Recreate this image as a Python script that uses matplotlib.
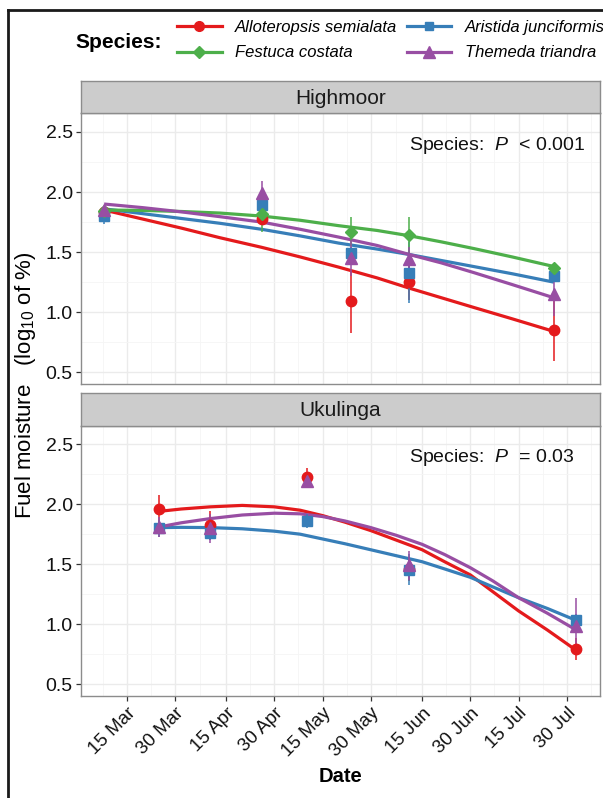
import numpy as np
import matplotlib.pyplot as plt
import matplotlib.dates as mdates
from matplotlib.lines import Line2D
from matplotlib.ticker import FixedLocator

plt.rcParams['font.family'] = ['Liberation Sans', 'DejaVu Sans']
plt.rcParams['mathtext.fontset'] = 'custom'
plt.rcParams['mathtext.rm'] = 'Liberation Sans'
plt.rcParams['mathtext.it'] = 'Liberation Sans:italic'
plt.rcParams['mathtext.bf'] = 'Liberation Sans:bold'

# --- данные ---------------------------------------------------------------
species = ['Alloteropsis semialata', 'Aristida junciformis', 'Festuca costata', 'Themeda triandra']
colors = ['#E41A1C', '#377EB8', '#4DAF4A', '#984EA3']
markers = ['o', 's', 'D', '^']
msizes = [7.5, 6.5, 6.5, 8.5]

# Highmoor: средние и ошибки
hm_dates = np.array(['2015-03-08', '2015-04-26', '2015-05-24', '2015-06-11', '2015-07-26'], dtype='datetime64[D]')
hm_mean = [
    [1.83, 1.775, 1.09, 1.25, 0.85],
    [1.80, 1.89, 1.49, 1.33, 1.30],
    [1.84, 1.82, 1.67, 1.64, 1.37],
    [1.85, 1.99, 1.45, 1.44, 1.15],
]
hm_err = [
    [0.03, 0.05, 0.26, 0.15, 0.26],
    [0.07, 0.05, 0.05, 0.25, 0.04],
    [0.03, 0.15, 0.12, 0.15, 0.03],
    [0.03, 0.10, 0.15, 0.10, 0.18],
]
# Highmoor: сглаженные кривые
hm_fit_dates = np.array(['2015-03-08', '2015-03-20', '2015-04-01', '2015-04-13', '2015-04-26',
                         '2015-05-08', '2015-05-20', '2015-06-01', '2015-06-11', '2015-06-21',
                         '2015-07-01', '2015-07-13', '2015-07-26'], dtype='datetime64[D]')
hm_fit = [
    [1.85, 1.775, 1.70, 1.62, 1.54, 1.46, 1.375, 1.285, 1.20, 1.12, 1.04, 0.945, 0.84],
    [1.86, 1.82, 1.78, 1.74, 1.69, 1.635, 1.575, 1.525, 1.48, 1.43, 1.38, 1.32, 1.25],
    [1.85, 1.847, 1.838, 1.825, 1.80, 1.765, 1.72, 1.68, 1.636, 1.585, 1.53, 1.46, 1.38],
    [1.90, 1.87, 1.835, 1.795, 1.75, 1.69, 1.625, 1.555, 1.48, 1.41, 1.33, 1.23, 1.12],
]

# Ukulinga (без Festuca)
uk_dates = np.array(['2015-03-25', '2015-04-10', '2015-05-10', '2015-06-11', '2015-08-02'], dtype='datetime64[D]')
uk_mean = [
    [1.96, 1.825, 2.23, 1.46, 0.79],
    [1.80, 1.76, 1.86, 1.455, 1.033],
    None,
    [1.81, 1.80, 2.19, 1.49, 0.98],
]
uk_err = [
    [0.12, 0.12, 0.07, 0.10, 0.09],
    [0.07, 0.06, 0.06, 0.13, 0.05],
    None,
    [0.08, 0.12, 0.05, 0.12, 0.24],
]
uk_fit_dates = np.array(['2015-03-25', '2015-04-01', '2015-04-10', '2015-04-20', '2015-04-30',
                         '2015-05-08', '2015-05-15', '2015-05-22', '2015-05-30', '2015-06-07',
                         '2015-06-15', '2015-06-22', '2015-06-30', '2015-07-07', '2015-07-15',
                         '2015-07-24', '2015-08-02'], dtype='datetime64[D]')
uk_fit = [
    [1.94, 1.96, 1.978, 1.99, 1.978, 1.95, 1.905, 1.85, 1.78, 1.70, 1.62, 1.52, 1.41, 1.27, 1.11, 0.95, 0.78],
    [1.805, 1.807, 1.805, 1.795, 1.775, 1.75, 1.71, 1.67, 1.62, 1.57, 1.52, 1.46, 1.39, 1.31, 1.22, 1.13, 1.03],
    None,
    [1.81, 1.845, 1.88, 1.91, 1.925, 1.92, 1.897, 1.86, 1.805, 1.74, 1.665, 1.58, 1.47, 1.36, 1.22, 1.09, 0.95],
]

tick_dates = np.array(['2015-03-15', '2015-03-30', '2015-04-15', '2015-04-30', '2015-05-15',
                       '2015-05-30', '2015-06-15', '2015-06-30', '2015-07-15', '2015-07-30'],
                      dtype='datetime64[D]')
tick_labels = ['15 Mar', '30 Mar', '15 Apr', '30 Apr', '15 May', '30 May', '15 Jun', '30 Jun', '15 Jul', '30 Jul']
y_ticks = [0.5, 1.0, 1.5, 2.0, 2.5]

panels = ['Highmoor', 'Ukulinga']
p_text = ['Species:  $\\mathit{P}$  < 0.001', 'Species:  $\\mathit{P}$  = 0.03']

# --- геометрия ------------------------------------------------------------
W, H = 603, 798
fig = plt.figure(figsize=(W / 100, H / 100), dpi=100)

def fx(px):
    return px / W

def fy(py):
    return 1 - py / H

left, right = 80.5, 600
ax_boxes = [(113.3, 384.0), (425.7, 695.7)]
strip_h = 32.5

all_dates = np.concatenate([hm_dates, uk_dates])
dmin = mdates.date2num(all_dates.min())
dmax = mdates.date2num(all_dates.max())
pad = (dmax - dmin) * 0.05

tnum = mdates.date2num(tick_dates)
step0 = tnum[1] - tnum[0]
step1 = tnum[-1] - tnum[-2]
minor_x = list((tnum[:-1] + tnum[1:]) / 2) + [tnum[0] - step0 / 2, tnum[-1] + step1 / 2]
minor_y = [0.75, 1.25, 1.75, 2.25]

datasets = [
    (hm_dates, hm_mean, hm_err, hm_fit_dates, hm_fit),
    (uk_dates, uk_mean, uk_err, uk_fit_dates, uk_fit),
]

for k, (top, bot) in enumerate(ax_boxes):
    ax = fig.add_axes([fx(left), fy(bot), fx(right - left), (bot - top) / H])
    dates, mean, err, fdates, fit = datasets[k]

    # сглаженные линии
    for i in range(4):
        if fit[i] is None:
            continue
        ax.plot(fdates, fit[i], color=colors[i], lw=2.3, zorder=3,
                solid_capstyle='butt', solid_joinstyle='round')
    # планки ошибок
    for i in range(4):
        if mean[i] is None:
            continue
        ax.errorbar(dates, mean[i], yerr=err[i], fmt='none', ecolor=colors[i],
                    elinewidth=1.1, capsize=0, zorder=4)
    # точки
    for i in range(4):
        if mean[i] is None:
            continue
        ax.plot(dates, mean[i], linestyle='none', marker=markers[i], ms=msizes[i],
                color=colors[i], mec=colors[i], zorder=5)

    ax.set_xlim(dmin - pad, dmax + pad)
    ax.set_ylim(0.4025, 2.655)
    ax.set_yticks(y_ticks)
    ax.set_yticklabels(['%.1f' % v for v in y_ticks])
    ax.set_xticks(tnum)
    ax.xaxis.set_minor_locator(FixedLocator(minor_x))
    ax.yaxis.set_minor_locator(FixedLocator(minor_y))
    ax.grid(which='major', color='#EBEBEB', lw=1.0)
    ax.grid(which='minor', color='#F5F5F5', lw=0.6)
    ax.set_axisbelow(True)
    ax.tick_params(which='minor', length=0)
    ax.tick_params(axis='y', labelsize=14, length=3.5, width=0.9, color='#333333', pad=2,
                   labelcolor='#111111')
    if k == 0:
        ax.tick_params(axis='x', length=0, labelbottom=False)
    else:
        ax.set_xticklabels(tick_labels, rotation=45, ha='right', rotation_mode='anchor')
        ax.tick_params(axis='x', labelsize=13.5, length=3.5, width=0.9, color='#333333',
                       pad=3, labelcolor='#111111')
    for s in ax.spines.values():
        s.set_color('#8C8C8C')
        s.set_linewidth(1.0)

    ax.text(mdates.date2num(np.datetime64('2015-06-11')), 2.39, p_text[k], fontsize=14,
            ha='left', va='center', color='#111111')

    # полоса с названием площадки
    sax = fig.add_axes([fx(left), fy(top), fx(right - left), strip_h / H])
    sax.set_facecolor('#CCCCCC')
    sax.set_xticks([])
    sax.set_yticks([])
    for s in sax.spines.values():
        s.set_color('#8C8C8C')
        s.set_linewidth(1.0)
    sax.text(0.5, 0.47, panels[k], transform=sax.transAxes, ha='center', va='center',
             fontsize=15, color='#1A1A1A')

# подписи осей
fig.text(fx(26), fy(385), 'Fuel moisture   (log$_{10}$ of %)', rotation=90,
         ha='center', va='center', fontsize=16)
fig.text(fx(340), fy(777), 'Date', ha='center', va='center', fontsize=14.5, fontweight='bold')

# легенда
order = [0, 2, 1, 3]
handles = [Line2D([], [], color=colors[i], lw=2.3, marker=markers[i], ms=msizes[i] - 0.5,
                  label=species[i]) for i in order]
fig.legend(handles=handles, loc='center left', bbox_to_anchor=(fx(169), fy(40)), ncol=2,
           frameon=False, borderpad=0, prop={'style': 'italic', 'size': 12},
           handlelength=2.65, handletextpad=0.8, columnspacing=0.6, labelspacing=0.65)
fig.text(fx(75), fy(42), 'Species:', ha='left', va='center', fontsize=15, fontweight='bold')

# чёрная рамка слева и сверху
fig.add_artist(Line2D([fx(8.3), fx(8.3)], [0, fy(10)], color='#1A1A1A', lw=2.0))
fig.add_artist(Line2D([fx(8.3), 1], [fy(10), fy(10)], color='#1A1A1A', lw=2.0))

fig.savefig('out.png', dpi=100)
